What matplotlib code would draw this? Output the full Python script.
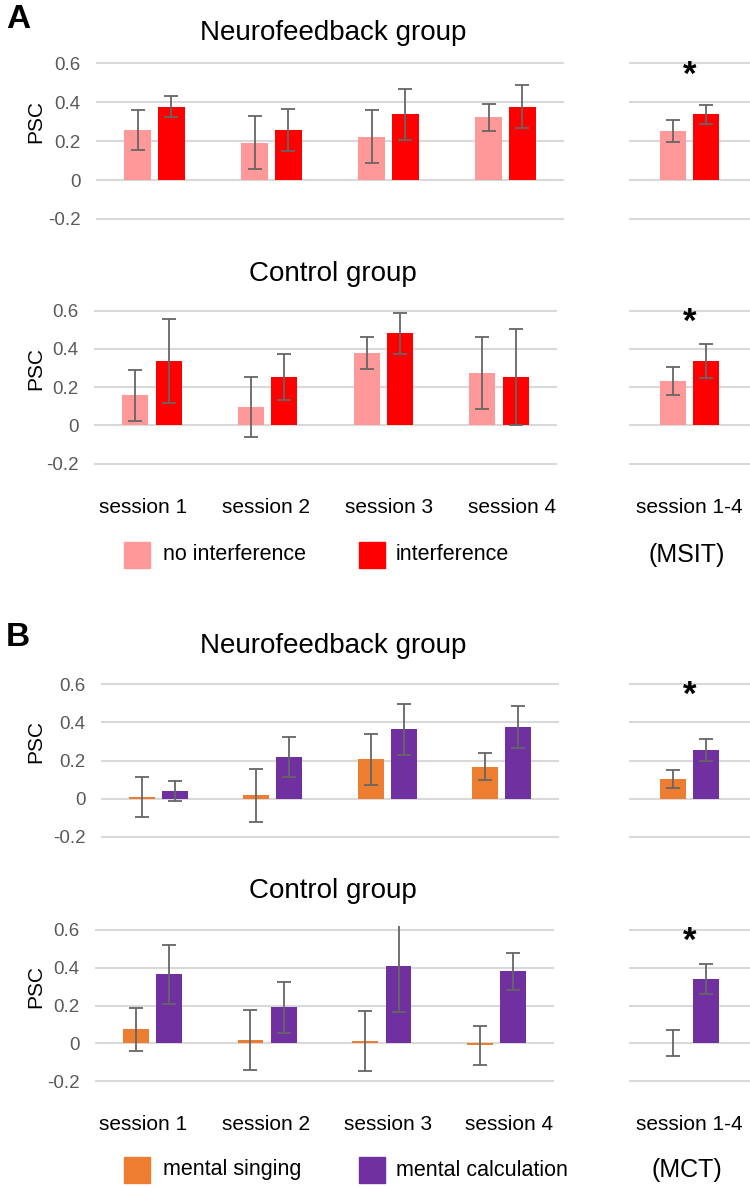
import matplotlib.pyplot as plt
from matplotlib.patches import Rectangle
from matplotlib.transforms import blended_transform_factory

plt.rcParams['font.family'] = ['Liberation Sans', 'DejaVu Sans']

sessions = ['session 1', 'session 2', 'session 3', 'session 4']
pooledLabel = 'session 1-4'
yticks = [-0.2, 0, 0.2, 0.4, 0.6]
yticklabels = ['-0.2', '0', '0.2', '0.4', '0.6']

# panel A : MSIT, no interference vs interference
aNfNoInt = [0.257, 0.192, 0.223, 0.322]
aNfNoIntErr = [0.105, 0.138, 0.135, 0.070]
aNfInt = [0.377, 0.257, 0.339, 0.377]
aNfIntErr = [0.053, 0.107, 0.131, 0.110]
aNfPooled = [0.250, 0.339]
aNfPooledErr = [0.057, 0.049]

aCtNoInt = [0.157, 0.094, 0.378, 0.272]
aCtNoIntErr = [0.135, 0.157, 0.085, 0.188]
aCtInt = [0.338, 0.255, 0.481, 0.251]
aCtIntErr = [0.220, 0.120, 0.108, 0.252]
aCtPooled = [0.232, 0.338]
aCtPooledErr = [0.072, 0.088]

# panel B : MCT, mental singing vs mental calculation
bNfSing = [0.010, 0.017, 0.206, 0.167]
bNfSingErr = [0.104, 0.140, 0.135, 0.070]
bNfCalc = [0.040, 0.216, 0.363, 0.377]
bNfCalcErr = [0.053, 0.105, 0.132, 0.110]
bNfPooled = [0.103, 0.253]
bNfPooledErr = [0.046, 0.057]

bCtSing = [0.074, 0.018, 0.012, -0.010]
bCtSingErr = [0.114, 0.158, 0.160, 0.103]
bCtCalc = [0.365, 0.190, 0.408, 0.380]
bCtCalcErr = [0.157, 0.133, 0.241, 0.096]
bCtPooled = [0.0, 0.339]
bCtPooledErr = [0.069, 0.080]

lightRed = '#FF9999'
red = '#FF0000'
orange = '#ED7D31'
purple = '#7030A0'
errColor = '#666666'
gridColor = '#D9D9D9'
tickColor = '#595959'

# session labels in the original sit a bit off the bar groups
labelPos = [-0.08, 0.99, 2.05, 3.11]

W, H = 750, 1187
fig = plt.figure(figsize=(W/100, H/100), dpi=100)
fig.patch.set_facecolor('white')

YLO, YHI = -0.22, 0.62
barW = 0.225
off = 0.145
ebKw = dict(fmt='none', ecolor=errColor, elinewidth=1.3, capsize=5, capthick=1.3, zorder=3)


def pxAxes(left, right, zero, scale):
    top = zero - YHI*scale
    bottom = zero - YLO*scale
    return fig.add_axes([left/W, 1-bottom/H, (right-left)/W, (bottom-top)/H])


def styleAx(ax, showY):
    ax.set_ylim(YLO, YHI)
    ax.set_yticks(yticks)
    if showY:
        ax.set_yticklabels(yticklabels)
    else:
        ax.set_yticklabels([])
    for s in ax.spines.values():
        s.set_visible(False)
    ax.grid(axis='y', color=gridColor, linewidth=1.5)
    ax.set_axisbelow(True)
    ax.tick_params(length=0, labelsize=13.5, labelcolor=tickColor, pad=11)


def drawRow(zero, scale, left, right, titleY, v1, e1, v2, e2, p, pe, c1, c2, title, showX):
    ax = pxAxes(left, right, zero, scale)
    xs = list(range(len(sessions)))
    ax.bar([x-off for x in xs], v1, barW, color=c1, zorder=2)
    ax.bar([x+off for x in xs], v2, barW, color=c2, zorder=2)
    ax.errorbar([x-off for x in xs], v1, yerr=e1, **ebKw)
    ax.errorbar([x+off for x in xs], v2, yerr=e2, **ebKw)
    ax.set_xlim(-0.5, 3.5)
    styleAx(ax, True)
    if showX:
        ax.set_xticks(labelPos, sessions)
        ax.tick_params(axis='x', labelsize=15, labelcolor='black', pad=22)
    else:
        ax.set_xticks([])

    axr = pxAxes(629, 750, zero, scale)
    axr.bar([-off, off], p, barW, color=[c1, c2], zorder=2)
    axr.errorbar([-off, off], p, yerr=pe, **ebKw)
    axr.set_xlim(-0.52, 0.52)
    styleAx(axr, False)
    if showX:
        axr.set_xticks([0], [pooledLabel])
        axr.tick_params(axis='x', labelsize=15, labelcolor='black', pad=22)
    else:
        axr.set_xticks([])
    axr.text(0, 0.54, '*', ha='center', va='center', fontsize=25, fontweight='bold')

    fig.text(333/W, 1-titleY/H, title, ha='center', va='center', fontsize=20)
    tr = blended_transform_factory(fig.transFigure, ax.transData)
    ax.text(36/W, 0.3, 'PSC', transform=tr, rotation=90, ha='center', va='center', fontsize=15)
    return ax


drawRow(180, 194.5, 96, 564, 33, aNfNoInt, aNfNoIntErr, aNfInt, aNfIntErr,
        aNfPooled, aNfPooledErr, lightRed, red, 'Neurofeedback group', False)
drawRow(425.3, 191, 94, 557, 274, aCtNoInt, aCtNoIntErr, aCtInt, aCtIntErr,
        aCtPooled, aCtPooledErr, lightRed, red, 'Control group', True)
drawRow(798.7, 191, 101, 559, 646, bNfSing, bNfSingErr, bNfCalc, bNfCalcErr,
        bNfPooled, bNfPooledErr, orange, purple, 'Neurofeedback group', False)
drawRow(1043.3, 189, 95, 554, 891, bCtSing, bCtSingErr, bCtCalc, bCtCalcErr,
        bCtPooled, bCtPooledErr, orange, purple, 'Control group', True)


def legendRow(y, items, tag):
    for (sx, tx, col, lab) in items:
        fig.patches.append(Rectangle((sx/W, 1-(y+13)/H), 26/W, 26/H,
                                     transform=fig.transFigure, color=col))
        fig.text(tx/W, 1-y/H, lab, ha='left', va='center', fontsize=15.5)
    fig.text(687/W, 1-y/H, tag, ha='center', va='center', fontsize=18)


legendRow(555, [(124, 163, lightRed, 'no interference'), (359, 396, red, 'interference')], '(MSIT)')
legendRow(1170, [(124, 163, orange, 'mental singing'), (359, 396, purple, 'mental calculation')], '(MCT)')

fig.text(18/W, 1-20/H, 'A', ha='center', va='center', fontsize=24, fontweight='bold')
fig.text(18/W, 1-637/H, 'B', ha='center', va='center', fontsize=24, fontweight='bold')

fig.savefig('out.png', dpi=100)
